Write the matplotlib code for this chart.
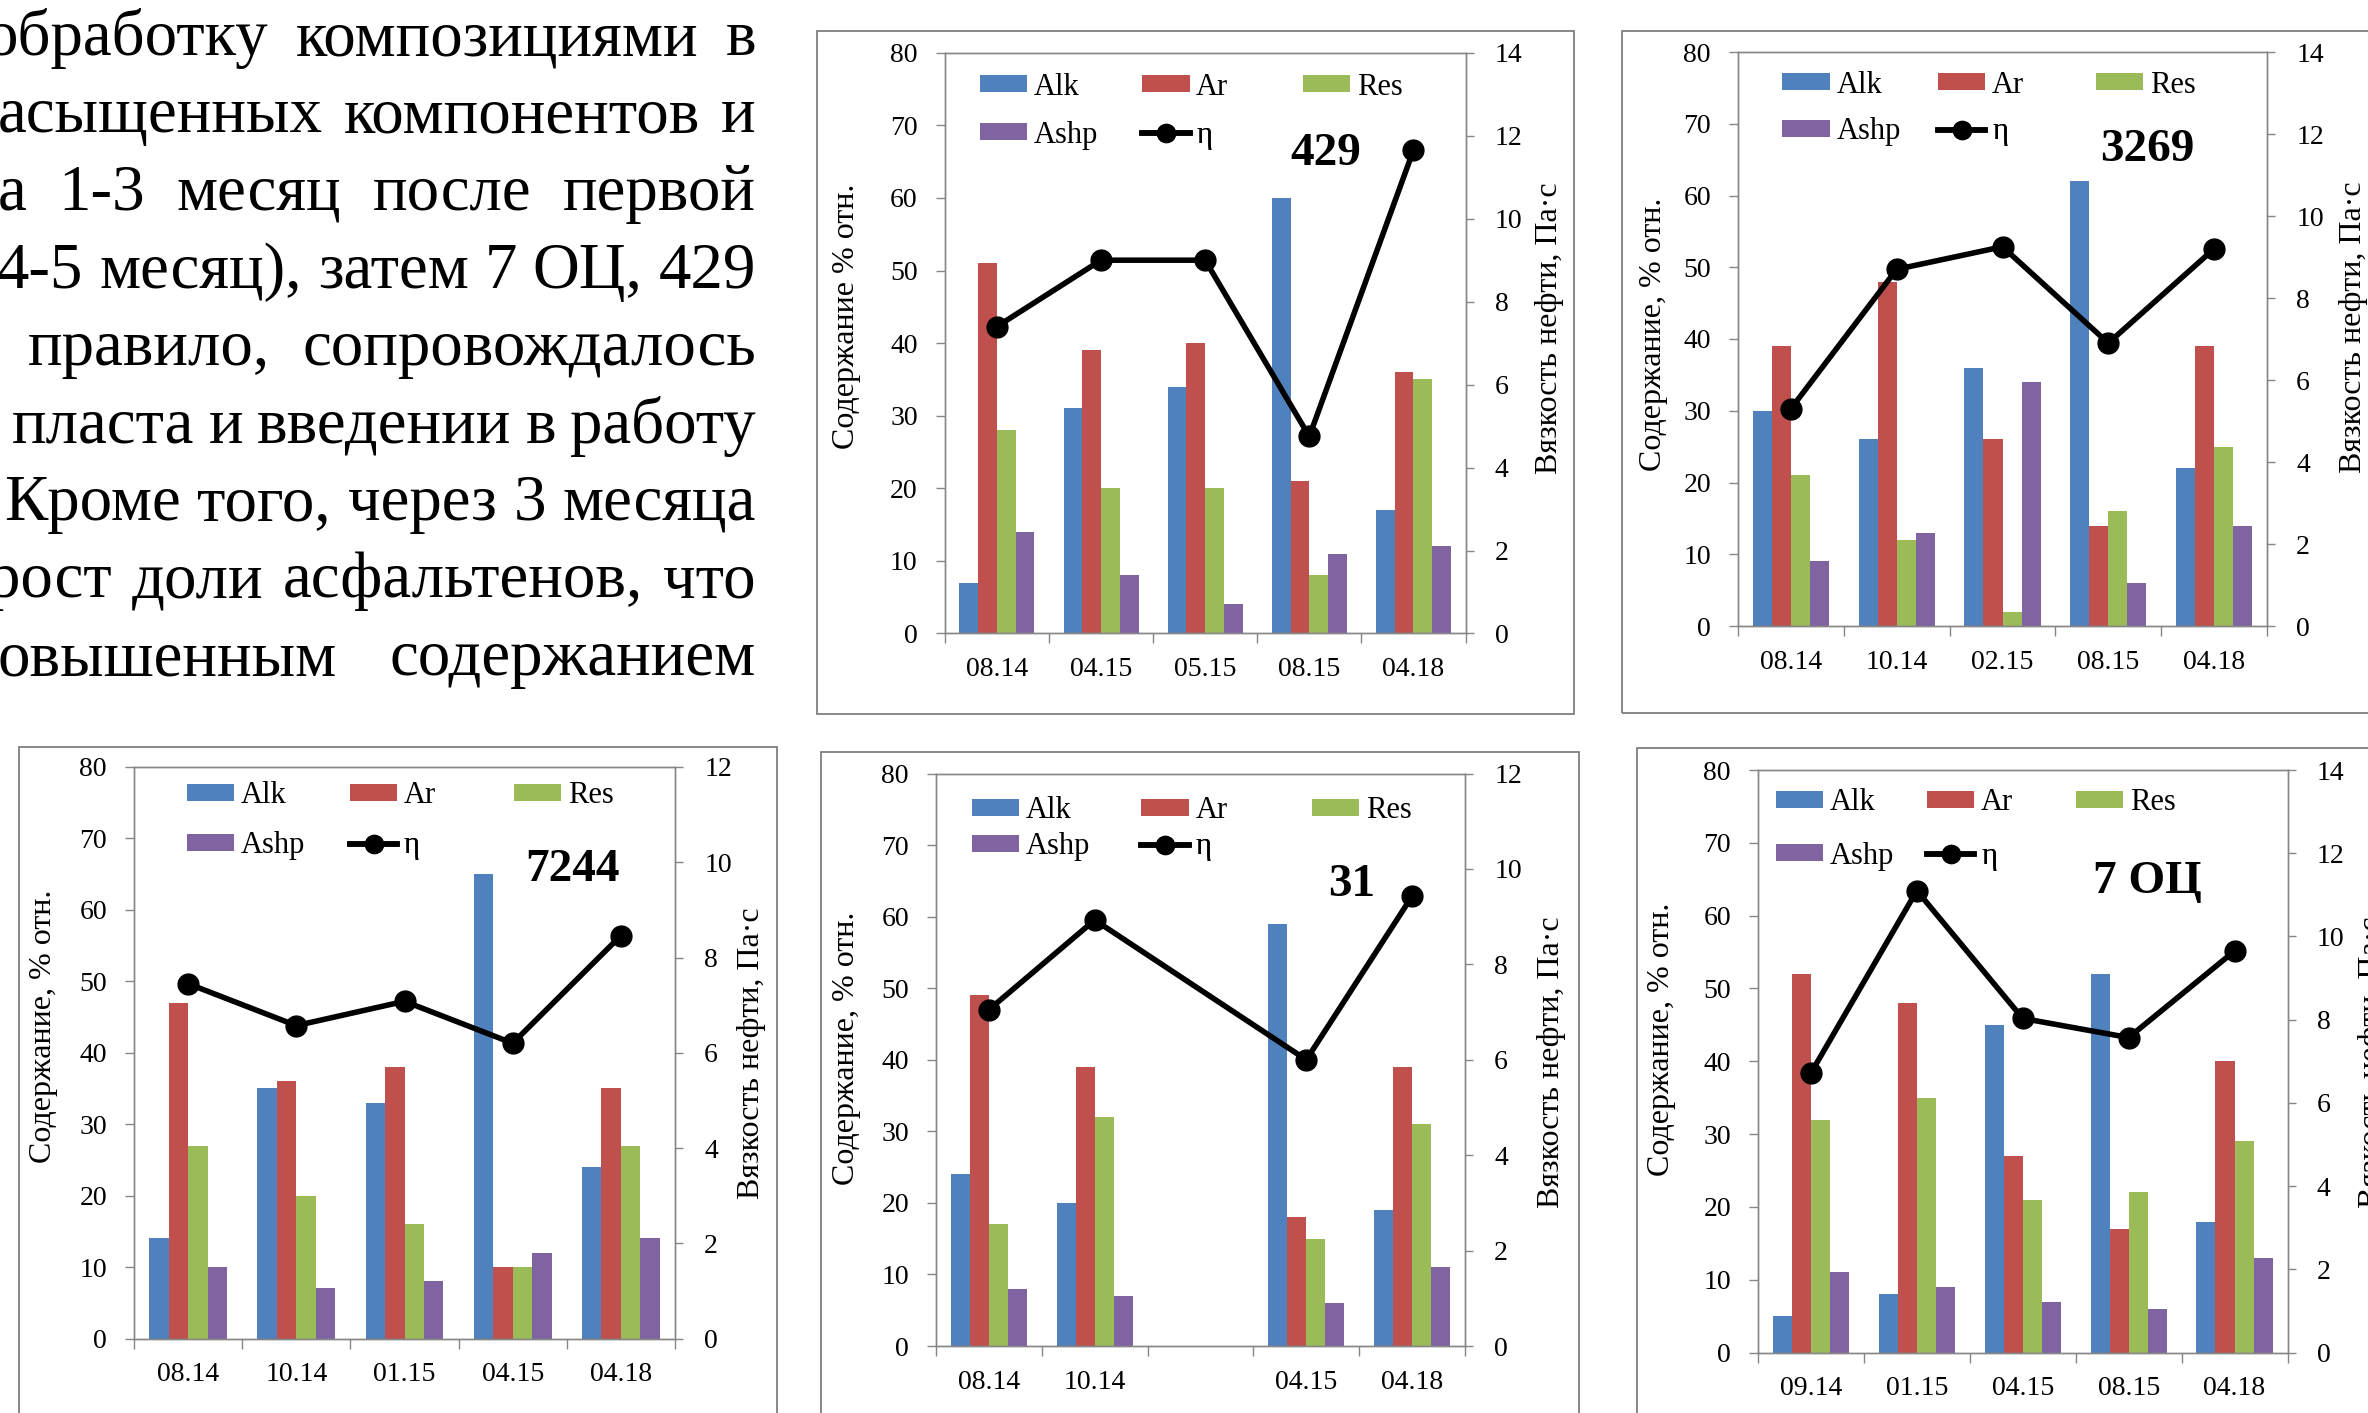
import numpy as np
import matplotlib
matplotlib.use("Agg")
import matplotlib.pyplot as plt
from matplotlib.patches import Patch, Rectangle
from matplotlib.lines import Line2D

plt.rcParams['font.family'] = ['Liberation Serif', 'DejaVu Serif']

W, H, DPI = 2368, 1413, 100

# ---------------- data ----------------
series_names = ['Alk', 'Ar', 'Res', 'Ashp']
eta_label = 'η'
bar_colors = ['#4F81BD', '#C0504D', '#9BBB59', '#8064A2']
left_label_a = 'Содержание % отн.'
left_label_b = 'Содержание, % отн.'
right_label = 'Вязкость нефти, Па·с'

cats_429 = ['08.14', '04.15', '05.15', '08.15', '04.18']
alk_429 = [7, 31, 34, 60, 17]
ar_429 = [51, 39, 40, 21, 36]
res_429 = [28, 20, 20, 8, 35]
ashp_429 = [14, 8, 4, 11, 12]
eta_429 = [7.4, 9.0, 9.0, 4.75, 11.65]

cats_3269 = ['08.14', '10.14', '02.15', '08.15', '04.18']
alk_3269 = [30, 26, 36, 62, 22]
ar_3269 = [39, 48, 26, 14, 39]
res_3269 = [21, 12, 2, 16, 25]
ashp_3269 = [9, 13, 34, 6, 14]
eta_3269 = [5.3, 8.7, 9.25, 6.9, 9.2]

cats_7244 = ['08.14', '10.14', '01.15', '04.15', '04.18']
alk_7244 = [14, 35, 33, 65, 24]
ar_7244 = [47, 36, 38, 10, 35]
res_7244 = [27, 20, 16, 10, 27]
ashp_7244 = [10, 7, 8, 12, 14]
eta_7244 = [7.45, 6.57, 7.08, 6.2, 8.46]

cats_31 = ['08.14', '10.14', '', '04.15', '04.18']
alk_31 = [24, 20, np.nan, 59, 19]
ar_31 = [49, 39, np.nan, 18, 39]
res_31 = [17, 32, np.nan, 15, 31]
ashp_31 = [8, 7, np.nan, 6, 11]
eta_31 = [7.05, 8.93, np.nan, 6.0, 9.43]

cats_7oc = ['09.14', '01.15', '04.15', '08.15', '04.18']
alk_7oc = [5, 8, 45, 52, 18]
ar_7oc = [52, 48, 27, 17, 40]
res_7oc = [32, 35, 21, 22, 29]
ashp_7oc = [11, 9, 7, 6, 13]
eta_7oc = [6.72, 11.1, 8.03, 7.57, 9.65]

text_lines = [
    'обработку композициями в',
    'асыщенных компонентов и',
    'а 1-3 месяц после первой',
    '4-5 месяц), затем 7 ОЦ, 429',
    'правило, сопровождалось',
    'пласта и введении в работу',
    'Кроме того, через 3 месяца',
    'рост доли асфальтенов, что',
    'овышенным содержанием',
]

# ---------------- layout (pixels of the full image) ----------------
text_left = [-14, -2, -2, -3, 28, 12, 4, -12, -3]
text_right = 756
text_base0 = 55
text_step = 77.5
text_ref_line = 3          # the line set with natural word spacing

FS = 20        # tick labels
FS_LEG = 22    # legend
FS_LAB = 23    # axis titles

panels = [
    dict(title='429', cats=cats_429, vals=[alk_429, ar_429, res_429, ashp_429], eta=eta_429, emax=14,
         ylab=left_label_a, ax=(944.8, 52.8, 1465.5, 633.5), frame=(817, 31, 1574, 714),
         cols=[0.0676, 0.379, 0.687], rows=[0.941, 0.858], tpos=(0.732, 0.825),
         lpos=(-0.188, 0.546), rpos=(1.162, 0.525)),
    dict(title='3269', cats=cats_3269, vals=[alk_3269, ar_3269, res_3269, ashp_3269], eta=eta_3269, emax=14,
         ylab=left_label_b, ax=(1738, 52, 2267, 626), frame=(1622, 31, 2420, 713),
         cols=[0.084, 0.378, 0.677], rows=[0.9425, 0.861], tpos=(0.773, 0.829),
         lpos=(-0.159, 0.509), rpos=(1.163, 0.521)),
    dict(title='7244', cats=cats_7244, vals=[alk_7244, ar_7244, res_7244, ashp_7244], eta=eta_7244, emax=12,
         ylab=left_label_b, ax=(134, 767, 675, 1338.5), frame=(19, 747, 777, 1460),
         cols=[0.098, 0.399, 0.702], rows=[0.95, 0.862], tpos=(0.81, 0.82),
         lpos=(-0.168, 0.547), rpos=(1.142, 0.50)),
    dict(title='31', cats=cats_31, vals=[alk_31, ar_31, res_31, ashp_31], eta=eta_31, emax=12,
         ylab=left_label_b, ax=(936, 773.6, 1465, 1346), frame=(820.5, 752, 1579, 1460),
         cols=[0.068, 0.388, 0.711], rows=[0.935, 0.872], tpos=(0.785, 0.806),
         lpos=(-0.17, 0.52), rpos=(1.163, 0.495)),
    dict(title='7 ОЦ', cats=cats_7oc, vals=[alk_7oc, ar_7oc, res_7oc, ashp_7oc], eta=eta_7oc, emax=14,
         ylab=left_label_b, ax=(1758, 770, 2287.5, 1352.6), frame=(1637, 748, 2420, 1460),
         cols=[0.034, 0.319, 0.60], rows=[0.944, 0.852], tpos=(0.735, 0.808),
         lpos=(-0.183, 0.537), rpos=(1.16, 0.498)),
]

SPINE = '#868686'

fig = plt.figure(figsize=(W / DPI, H / DPI), dpi=DPI)
fig.patch.set_facecolor('white')


def fx(px):
    return px / W


def fy(py):
    return 1 - py / H


for p in panels:
    l, t, r, b = p['ax']
    fl, ft, fr, fb = p['frame']
    fig.add_artist(Rectangle((fx(fl), fy(fb)), fx(fr) - fx(fl), fy(ft) - fy(fb),
                             transform=fig.transFigure, fill=False, edgecolor='#7f7f7f', lw=1.3))
    ax = fig.add_axes([fx(l), fy(b), fx(r) - fx(l), fy(t) - fy(b)])
    x = np.arange(len(p['cats']))
    bw = 0.18
    for i, (vals, col) in enumerate(zip(p['vals'], bar_colors)):
        ax.bar(x + (i - 1.5) * bw, np.array(vals, dtype=float), bw, color=col, zorder=2)
    ax.set_xlim(-0.5, len(x) - 0.5)
    ax.set_ylim(0, 80)
    ax.set_yticks(np.arange(0, 81, 10))
    ax.set_xticks(np.arange(-0.5, len(x), 1.0))
    ax.set_xticklabels([])
    ax.set_xticks(x, minor=True)
    ax.set_xticklabels(p['cats'], minor=True)
    ax.tick_params(axis='x', which='major', direction='out', length=7, width=1, color=SPINE)
    ax.tick_params(axis='x', which='minor', length=0, pad=17, labelsize=FS)
    ax.tick_params(axis='y', direction='out', length=6.5, width=1, color=SPINE, pad=13, labelsize=FS)

    ax2 = ax.twinx()
    e = np.array(p['eta'], dtype=float)
    m = ~np.isnan(e)
    ax2.plot(x[m], e[m], '-o', color='black', lw=4, ms=15, zorder=5)
    ax2.set_ylim(0, p['emax'])
    ax2.set_yticks(np.arange(0, p['emax'] + 1, 2))
    ax2.tick_params(axis='y', direction='out', length=6, width=1, color=SPINE, pad=15, labelsize=FS)
    for a in (ax, ax2):
        for s in a.spines.values():
            s.set_color(SPINE)
            s.set_linewidth(1.0)

    ax.text(p['lpos'][0], p['lpos'][1], p['ylab'], rotation=90, ha='center', va='center',
            rotation_mode='anchor', fontsize=FS_LAB, transform=ax.transAxes)
    ax.text(p['rpos'][0], p['rpos'][1], right_label, rotation=90, ha='center', va='center',
            rotation_mode='anchor', fontsize=FS_LAB, transform=ax.transAxes, clip_on=False)
    ax2.text(p['tpos'][0], p['tpos'][1], p['title'], fontsize=34, fontweight='bold',
             ha='center', va='center', transform=ax.transAxes, zorder=6)

    handles = [Patch(facecolor=c, edgecolor='none') for c in bar_colors]
    eta_h = Line2D([], [], color='black', lw=4, marker='o', ms=13)
    entries = [(handles[0], series_names[0], 0, 0), (handles[1], series_names[1], 1, 0),
               (handles[2], series_names[2], 2, 0), (handles[3], series_names[3], 0, 1),
               (eta_h, eta_label, 1, 1)]
    for h, lab, ci, ri in entries:
        leg = ax2.legend([h], [lab], loc='center left',
                         bbox_to_anchor=(p['cols'][ci], p['rows'][ri]), bbox_transform=ax.transAxes,
                         frameon=False, borderpad=0, borderaxespad=0, handlelength=1.55,
                         handleheight=0.47, handletextpad=0.22, fontsize=FS_LEG, numpoints=1)
        ax2.add_artist(leg)

# ---------------- justified text block ----------------
renderer = fig.canvas.get_renderer()
probe = fig.text(0, 0, text_lines[text_ref_line], fontsize=40)
natural = probe.get_window_extent(renderer).width
probe.remove()
text_size = 40 * (text_right - text_left[text_ref_line]) / natural

for i, (line, left) in enumerate(zip(text_lines, text_left)):
    words = line.split()
    y = fy(text_base0 + i * text_step)
    objs = [fig.text(0, y, w_, fontsize=text_size, va='baseline', ha='left') for w_ in words]
    widths = [o.get_window_extent(renderer).width for o in objs]
    gap = (text_right - left - sum(widths)) / max(len(objs) - 1, 1)
    xx = left
    for o, wd in zip(objs, widths):
        o.set_x(fx(xx))
        xx += wd + gap

fig.savefig('out.png', dpi=DPI)
